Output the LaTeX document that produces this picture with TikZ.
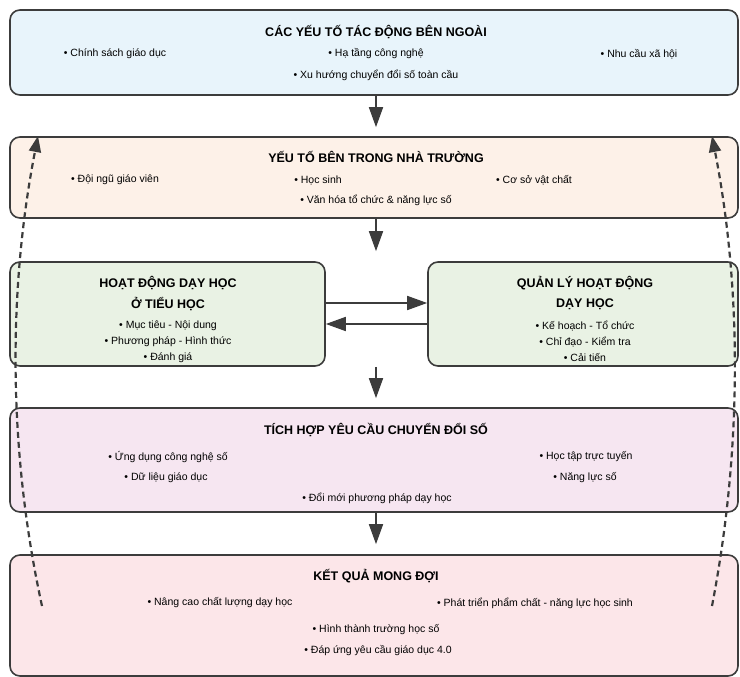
\documentclass[tikz,border=0pt]{standalone}
\usepackage{fontspec}
\setmainfont{Liberation Sans}
\usetikzlibrary{arrows.meta}
\definecolor{edge}{HTML}{3C3C3C}
\definecolor{outer}{HTML}{E8F4FB}
\definecolor{inner}{HTML}{FDF1E8}
\definecolor{teach}{HTML}{E9F2E4}
\definecolor{digit}{HTML}{F6E6F1}
\definecolor{result}{HTML}{FCE6E9}

\begin{document}
\begin{tikzpicture}[x=1pt,y=-1pt,
  box/.style={draw=edge,line width=1.6pt,rounded corners=10pt,inner sep=0pt},
  ttl/.style={font=\bfseries\fontsize{12.5}{14}\selectfont},
  itm/.style={font=\fontsize{10.5}{12}\selectfont},
  arr/.style={draw=edge,line width=1.7pt,-{Triangle[length=20pt,width=14pt]}},
  back/.style={draw=edge,line width=2.2pt,dash pattern=on 6pt off 4pt,-{Triangle[length=16pt,width=12pt]}}]
\useasboundingbox (0,0) rectangle (740,677);
\node [box,fill=outer,minimum width=728pt,minimum height=85pt] (b1) at (374,52.5) {};
\node [box,fill=inner,minimum width=728pt,minimum height=81pt] (b2) at (374,177.5) {};
\node [box,fill=teach,minimum width=315pt,minimum height=104pt] (b3l) at (167.5,314) {};
\node [box,fill=teach,minimum width=310pt,minimum height=104pt] (b3r) at (583,314) {};
\node [box,fill=digit,minimum width=728pt,minimum height=104pt] (b4) at (374,460) {};
\node [box,fill=result,minimum width=728pt,minimum height=121pt] (b5) at (374,615.5) {};

\node [ttl] (t1) at (376,32) {CÁC YẾU TỐ TÁC ĐỘNG BÊN NGOÀI};
\node [itm] (p1) at (115,54) {• Chính sách giáo dục};
\node [itm] (p2) at (376,54) {• Hạ tầng công nghệ};
\node [itm] (p3) at (639,54) {• Nhu cầu xã hội};
\node [itm] (p4) at (376,75) {• Xu hướng chuyển đổi số toàn cầu};

\node [ttl] (t2) at (376,157) {YẾU TỐ BÊN TRONG NHÀ TRƯỜNG};
\node [itm] (q1) at (115,180) {• Đội ngũ giáo viên};
\node [itm] (q2) at (318,180) {• Học sinh};
\node [itm] (q3) at (534,180) {• Cơ sở vật chất};
\node [itm] (q4) at (376,200) {• Văn hóa tổ chức \& năng lực số};

\node [ttl] (t3) at (168,283) {HOẠT ĐỘNG DẠY HỌC};
\node [ttl] (t3b) at (168,304) {Ở TIỂU HỌC};
\node [itm] (r1) at (168,326) {• Mục tiêu - Nội dung};
\node [itm] (r2) at (168,342) {• Phương pháp - Hình thức};
\node [itm] (r3) at (168,358) {• Đánh giá};

\node [ttl] (t4) at (585,283) {QUẢN LÝ HOẠT ĐỘNG};
\node [ttl] (t4b) at (585,304) {DẠY HỌC};
\node [itm] (s1) at (585,326) {• Kế hoạch - Tổ chức};
\node [itm] (s2) at (585,342) {• Chỉ đạo - Kiểm tra};
\node [itm] (s3) at (585,358) {• Cải tiến};

\node [ttl] (t5) at (376,430) {TÍCH HỢP YÊU CẦU CHUYỂN ĐỔI SỐ};
\node [itm] (u1) at (168,457) {• Ứng dụng công nghệ số};
\node [itm] (u2) at (586,457) {• Học tập trực tuyến};
\node [itm] (u3) at (166,478) {• Dữ liệu giáo dục};
\node [itm] (u4) at (585,478) {• Năng lực số};
\node [itm] (u5) at (377,498) {• Đổi mới phương pháp dạy học};

\node [ttl] (t6) at (376,576) {KẾT QUẢ MONG ĐỢI};
\node [itm] (v1) at (220,603) {• Nâng cao chất lượng dạy học};
\node [itm] (v2) at (535,603) {• Phát triển phẩm chất - năng lực học sinh};
\node [itm] (v3) at (376,630) {• Hình thành trường học số};
\node [itm] (v4) at (378,651) {• Đáp ứng yêu cầu giáo dục 4.0};

\draw [arr,shorten >=9pt] ([xshift=2pt]b1.south) -- ([xshift=2pt]b2.north);
\draw [arr,shorten >=10pt] ([xshift=2pt]b2.south) -- ([xshift=2pt]b2.south |- b3l.north);
\draw [arr] ([yshift=11pt]b3l.east) -- ([yshift=11pt]b3r.west);
\draw [arr] ([yshift=-10pt]b3r.west) -- ([yshift=-10pt]b3l.east);
\draw [arr,shorten >=9pt] ([xshift=2pt]b4.north |- b3l.south) -- ([xshift=2pt]b4.north);
\draw [arr,shorten >=10pt] ([xshift=2pt]b4.south) -- ([xshift=2pt]b5.north);

\coordinate (l0) at (42,606);
\coordinate (l1) at (38,136);
\coordinate (r0) at (712,606);
\coordinate (r1) at (712,136);
\draw [back] (l0) .. controls (8,450) and (8,290) .. (l1);
\draw [back] (r0) .. controls (742,450) and (742,290) .. (r1);
\end{tikzpicture}
\end{document}
